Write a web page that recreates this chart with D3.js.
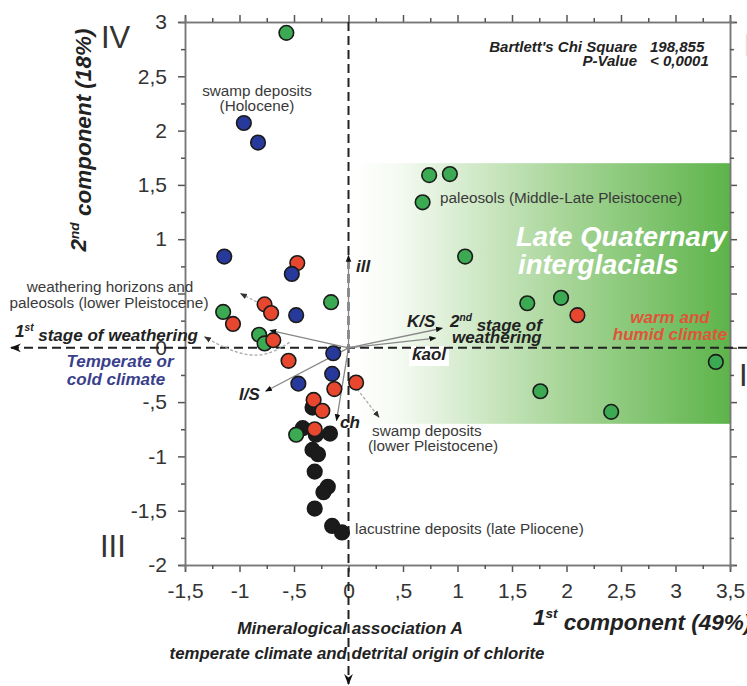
<!DOCTYPE html>
<html>
<head>
<meta charset="utf-8">
<script src="https://cdn.jsdelivr.net/npm/d3@7"></script>
<style>
  body { margin: 0; background: #fff; }
  svg { font-family: "Liberation Sans", Arial, sans-serif; }
</style>
</head>
<body>
<div id="canvas"></div>
<script>
/**
 * Data
 */
const xTicks = [-1.5, -1, -0.5, 0, 0.5, 1, 1.5, 2, 2.5, 3, 3.5];
const yTicks = [-2, -1.5, -1, -0.5, 0, 0.5, 1, 1.5, 2, 2.5, 3];
const hiddenYLabels = [0.5];

// paleosols / interglacial samples
const greenPts = [
    [-0.57, 2.90], [0.74, 1.59], [0.93, 1.60], [0.68, 1.34], [1.07, 0.84],
    [1.64, 0.41], [1.95, 0.46], [3.37, -0.13], [1.76, -0.40], [2.41, -0.59],
    [-0.16, 0.42], [-1.15, 0.33], [-0.82, 0.12], [-0.77, 0.04], [-0.48, -0.80]
];
const redPts = [
    [2.10, 0.30], [-0.47, 0.78], [-0.77, 0.40], [-0.71, 0.32], [-1.06, 0.22],
    [-0.69, 0.07], [-0.55, -0.12], [-0.13, -0.38], [0.07, -0.32], [-0.32, -0.48],
    [-0.24, -0.58], [-0.31, -0.75]
];
const bluePts = [
    [-0.96, 2.07], [-0.83, 1.89], [-1.14, 0.84], [-0.52, 0.68], [-0.48, 0.30],
    [-0.14, -0.05], [-0.15, -0.24], [-0.46, -0.33]
];
const blackPts = [
    [-0.33, -0.55], [-0.42, -0.74], [-0.30, -0.80], [-0.17, -0.79], [-0.33, -0.94],
    [-0.28, -0.98], [-0.31, -1.14], [-0.19, -1.28], [-0.23, -1.33], [-0.31, -1.48],
    [-0.15, -1.64], [-0.06, -1.70]
];

// loading vectors (from origin)
const loadings = [
    { name: "stage1", x: -0.72, y: 0.16 },
    { name: "I/S", x: -0.76, y: -0.40 },
    { name: "ch", x: -0.11, y: -0.67 },
    { name: "ill", x: 0.00, y: 0.85 },
    { name: "K/S", x: 0.86, y: 0.18 },
    { name: "kaol", x: 0.80, y: 0.09 }
];

// dashed grey leader arrows
const leaders = [
    [[-0.80, 0.40], [-0.99, 0.50]],
    [[-0.54, 0.05], [-0.77, -0.09], [-1.05, -0.05], [-1.32, 0.10]],
    [[0.08, -0.38], [0.28, -0.64]]
];

// interglacial band
const band = { x0: 0.05, x1: 3.5, y0: -0.7, y1: 1.7 };

/**
 * Helper functions
 */
const fmt = d => d === 0 ? "0" : String(d).replace("0.", ".").replace(".", ",");

function supText(sel, pre, sup, post) {
    sel.append("tspan").text(pre);
    sel.append("tspan").attr("font-size", "0.6em").attr("dy", "-0.55em").text(sup);
    sel.append("tspan").attr("dy", "0.55em").text(post);
}

function draw() {
    const width = 747, height = 686;
    const svg = d3.select("#canvas").append("svg")
        .attr("width", width)
        .attr("height", height);

    const x = d3.scaleLinear().domain([-1.5, 3.5]).range([185, 730]);
    const y = d3.scaleLinear().domain([-2, 3]).range([565, 22]);

    const defs = svg.append("defs");
    const grad = defs.append("linearGradient").attr("id", "greenGrad")
        .attr("x1", "0%").attr("x2", "100%").attr("y1", "0%").attr("y2", "0%");
    grad.append("stop").attr("offset", "0%").attr("stop-color", "#ffffff");
    grad.append("stop").attr("offset", "12%").attr("stop-color", "#f4faf1");
    grad.append("stop").attr("offset", "55%").attr("stop-color", "#a9d69a");
    grad.append("stop").attr("offset", "100%").attr("stop-color", "#5db44a");

    defs.append("marker").attr("id", "arrowBlack")
        .attr("viewBox", "0 0 10 10").attr("refX", 9).attr("refY", 5)
        .attr("markerWidth", 7).attr("markerHeight", 7)
        .attr("markerUnits", "userSpaceOnUse")
        .attr("orient", "auto")
        .append("path").attr("d", "M0,1 L10,5 L0,9 z").attr("fill", "#111");
    defs.append("marker").attr("id", "arrowBig")
        .attr("viewBox", "0 0 10 10").attr("refX", 9).attr("refY", 5)
        .attr("markerWidth", 11).attr("markerHeight", 11)
        .attr("markerUnits", "userSpaceOnUse")
        .attr("orient", "auto")
        .append("path").attr("d", "M0,1 L10,5 L0,9 L3,5 z").attr("fill", "#111");
    defs.append("marker").attr("id", "arrowGrey")
        .attr("viewBox", "0 0 10 10").attr("refX", 9).attr("refY", 5)
        .attr("markerWidth", 7).attr("markerHeight", 7)
        .attr("markerUnits", "userSpaceOnUse")
        .attr("orient", "auto")
        .append("path").attr("d", "M0,1 L10,5 L0,9 z").attr("fill", "#333");

    // green band
    svg.append("rect")
        .attr("x", x(band.x0)).attr("y", y(band.y1))
        .attr("width", x(band.x1) - x(band.x0))
        .attr("height", y(band.y0) - y(band.y1))
        .attr("fill", "url(#greenGrad)");

    // axes (all four sides, outward ticks)
    const minorX = d3.range(-1.25, 3.5, 0.5);
    const minorY = d3.range(-1.75, 3, 0.5);
    const styleAxis = g => {
        g.select(".domain").attr("stroke", "#777").attr("stroke-width", 1.5);
        g.selectAll(".tick line").attr("stroke", "#555").attr("stroke-width", 1.5);
        g.selectAll(".tick text").attr("fill", "#333").attr("font-size", 21);
    };

    svg.append("g").attr("transform", "translate(0," + y(-2) + ")")
        .call(d3.axisBottom(x).tickValues(xTicks).tickFormat(fmt).tickSize(7).tickPadding(11))
        .call(styleAxis);
    svg.append("g").attr("transform", "translate(0," + y(-2) + ")")
        .call(d3.axisBottom(x).tickValues(minorX).tickFormat("").tickSize(4))
        .call(styleAxis);
    svg.append("g").attr("transform", "translate(0," + y(3) + ")")
        .call(d3.axisTop(x).tickValues(xTicks).tickFormat("").tickSize(7))
        .call(styleAxis);
    svg.append("g").attr("transform", "translate(0," + y(3) + ")")
        .call(d3.axisTop(x).tickValues(minorX).tickFormat("").tickSize(4))
        .call(styleAxis);

    svg.append("g").attr("transform", "translate(" + x(-1.5) + ",0)")
        .call(d3.axisLeft(y).tickValues(yTicks)
            .tickFormat(d => hiddenYLabels.includes(d) ? "" : fmt(d))
            .tickSize(7).tickPadding(11))
        .call(styleAxis);
    svg.append("g").attr("transform", "translate(" + x(-1.5) + ",0)")
        .call(d3.axisLeft(y).tickValues(minorY).tickFormat("").tickSize(4))
        .call(styleAxis);
    svg.append("g").attr("transform", "translate(" + x(3.5) + ",0)")
        .call(d3.axisRight(y).tickValues(yTicks).tickFormat("").tickSize(7))
        .call(styleAxis);
    svg.append("g").attr("transform", "translate(" + x(3.5) + ",0)")
        .call(d3.axisRight(y).tickValues(minorY).tickFormat("").tickSize(4))
        .call(styleAxis);

    // axis titles
    svg.append("text")
        .attr("transform", "translate(86,140) rotate(-90)")
        .attr("text-anchor", "middle")
        .attr("font-size", 22.5).attr("font-weight", "bold").attr("font-style", "italic")
        .attr("fill", "#222")
        .call(supText, "2", "nd", " component (18%)");
    svg.append("text")
        .attr("x", 533).attr("y", 625)
        .attr("font-size", 22.5).attr("font-weight", "bold").attr("font-style", "italic")
        .attr("fill", "#222")
        .call(supText, "1", "st", " component (49%)");

    // bottom captions
    svg.append("text")
        .attr("x", 350).attr("y", 634).attr("text-anchor", "middle")
        .attr("font-size", 17.2).attr("font-weight", "bold").attr("font-style", "italic")
        .attr("fill", "#222")
        .text("Mineralogical association A");
    svg.append("text")
        .attr("x", 357).attr("y", 659).attr("text-anchor", "middle")
        .attr("font-size", 16.8).attr("font-weight", "bold").attr("font-style", "italic")
        .attr("fill", "#222")
        .text("temperate climate and detrital origin of chlorite");

    // quadrant numerals
    const roman = [
        { t: "IV", x: 101, y: 48, c: "#333" }, { t: "III", x: 100, y: 557, c: "#333" },
        { t: "I", x: 739, y: 386, c: "#333" }, { t: "II", x: 743, y: 56, c: "#e2e2e2" }
    ];
    svg.selectAll(".roman").data(roman).join("text")
        .attr("class", "roman")
        .attr("x", d => d.x).attr("y", d => d.y)
        .attr("font-size", 31).attr("fill", d => d.c)
        .text(d => d.t);

    // band title
    const bandTitle = svg.append("text")
        .attr("font-size", 27.5).attr("font-weight", "bold").attr("font-style", "italic")
        .attr("fill", "#ffffff");
    bandTitle.append("tspan").attr("x", 516).attr("y", 246).text("Late Quaternary");
    bandTitle.append("tspan").attr("x", 518).attr("y", 274).text("interglacials");

    // white box behind "kaol"
    svg.append("rect")
        .attr("x", 409).attr("y", 346).attr("width", 40).attr("height", 20)
        .attr("fill", "#ffffff");

    // dashed zero lines
    svg.append("line")
        .attr("x1", x(0)).attr("x2", x(0))
        .attr("y1", y(3)).attr("y2", 684)
        .attr("stroke", "#222").attr("stroke-width", 2)
        .attr("stroke-dasharray", "9,5")
        .attr("marker-end", "url(#arrowBig)");
    svg.append("line")
        .attr("x1", width).attr("x2", 11)
        .attr("y1", y(0)).attr("y2", y(0))
        .attr("stroke", "#222").attr("stroke-width", 2)
        .attr("stroke-dasharray", "9,5")
        .attr("marker-end", "url(#arrowBig)");

    // statistics
    const stats = [
        { l: "Bartlett's Chi Square", v: "198,855", y: 52 },
        { l: "P-Value", v: "< 0,0001", y: 66 }
    ];
    const sg = svg.append("g")
        .attr("font-size", 15).attr("font-weight", "bold").attr("font-style", "italic")
        .attr("fill", "#222");
    sg.selectAll(".lab").data(stats).join("text")
        .attr("x", 637).attr("y", d => d.y).attr("text-anchor", "end").text(d => d.l);
    sg.selectAll(".val").data(stats).join("text")
        .attr("x", 650).attr("y", d => d.y).text(d => d.v);

    // grey annotation text
    const notes = [
        { t: "swamp deposits", x: 257, y: 96, a: "middle" },
        { t: "(Holocene)", x: 257, y: 111, a: "middle" },
        { t: "paleosols (Middle-Late Pleistocene)", x: 440, y: 203, a: "start" },
        { t: "weathering horizons and", x: 110, y: 292, a: "middle" },
        { t: "paleosols (lower Pleistocene)", x: 109, y: 308, a: "middle" },
        { t: "swamp deposits", x: 372, y: 436, a: "start" },
        { t: "(lower Pleistocene)", x: 368, y: 451, a: "start" },
        { t: "lacustrine deposits (late Pliocene)", x: 355, y: 534, a: "start" }
    ];
    svg.selectAll(".note").data(notes).join("text")
        .attr("class", "note")
        .attr("x", d => d.x).attr("y", d => d.y).attr("text-anchor", d => d.a)
        .attr("font-size", 15.3).attr("fill", "#3a3a3a")
        .text(d => d.t);

    // leader arrows
    const leaderLine = d3.line().x(d => x(d[0])).y(d => y(d[1])).curve(d3.curveBasis);
    svg.selectAll(".leader").data(leaders).join("path")
        .attr("class", "leader")
        .attr("d", leaderLine)
        .attr("fill", "none").attr("stroke", "#aaa").attr("stroke-width", 1.3)
        .attr("stroke-dasharray", "3,2")
        .attr("marker-end", "url(#arrowGrey)");

    // loading vectors
    svg.selectAll(".vec").data(loadings).join("line")
        .attr("class", "vec")
        .attr("x1", x(0)).attr("y1", y(0))
        .attr("x2", d => x(d.x)).attr("y2", d => y(d.y))
        .attr("stroke", "#888").attr("stroke-width", 1.3)
        .attr("marker-end", "url(#arrowBlack)");

    // points
    const groups = [
        { pts: blackPts, fill: "#1b1b1b" },
        { pts: greenPts, fill: "#3caa52" },
        { pts: redPts, fill: "#e8472f" },
        { pts: bluePts, fill: "#27399a" }
    ];
    groups.forEach(g => {
        svg.append("g").selectAll("circle").data(g.pts).join("circle")
            .attr("cx", d => x(d[0])).attr("cy", d => y(d[1]))
            .attr("r", 7.3)
            .attr("fill", g.fill)
            .attr("stroke", "#1a1a1a").attr("stroke-width", 1.6);
    });

    // bold italic labels
    const bi = svg.append("g")
        .attr("font-weight", "bold").attr("font-style", "italic").attr("fill", "#222")
        .attr("font-size", 17);
    bi.append("text").attr("x", 15).attr("y", 337).call(supText, "1", "st", " stage of weathering");
    bi.append("text").attr("x", 450).attr("y", 327).call(supText, "2", "nd", " stage of");
    bi.append("text").attr("x", 452).attr("y", 343).text("weathering");
    bi.append("text").attr("x", 407).attr("y", 327).text("K/S");
    bi.append("text").attr("x", 412).attr("y", 360).text("kaol");
    bi.append("text").attr("x", 356).attr("y", 272).text("ill");
    bi.append("text").attr("x", 239).attr("y", 400).text("I/S");
    bi.append("text").attr("x", 340).attr("y", 428).text("ch");

    const blue = bi.append("text").attr("fill", "#3a3f8c").attr("text-anchor", "middle");
    blue.append("tspan").attr("x", 120).attr("y", 367).text("Temperate or");
    blue.append("tspan").attr("x", 116).attr("y", 385).text("cold climate");

    const red = bi.append("text").attr("fill", "#e0543a").attr("text-anchor", "middle");
    red.append("tspan").attr("x", 670).attr("y", 323).text("warm and");
    red.append("tspan").attr("x", 670).attr("y", 340).text("humid climate");
}

draw();
</script>
</body>
</html>
